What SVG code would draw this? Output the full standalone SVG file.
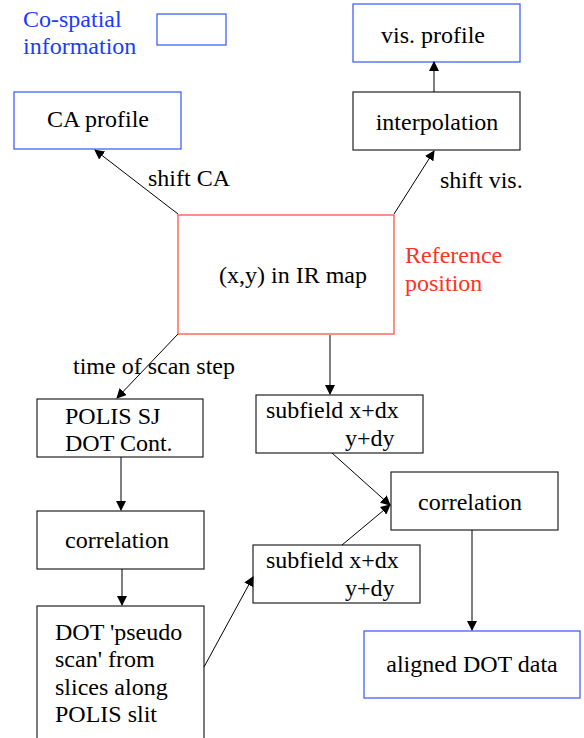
<svg xmlns="http://www.w3.org/2000/svg" width="584" height="738" viewBox="0 0 584 738" font-family="Liberation Serif, DejaVu Serif, serif">
<style>
text{font-size:24px;fill:#000}
.b{fill:#fff;stroke:#222;stroke-width:1.2}
.blue{fill:#fff;stroke:#3355ff;stroke-width:1.2}
.red{fill:#fff;stroke:#ff4433;stroke-width:1.2}
.c{text-anchor:middle}
.bt{fill:#1a3cff}
.rt{fill:#ff3322}
.ln{stroke:#000;stroke-width:1;fill:none}
</style>
<defs>
<marker id="ah" markerWidth="10" markerHeight="10" refX="9" refY="5" orient="auto" markerUnits="userSpaceOnUse">
<path d="M0,0 L10,5 L0,10 z" fill="#000"/>
</marker>
</defs>
<rect width="584" height="738" fill="#fff"/>
<g id="legend">
<text class="bt" x="23" y="27">Co-spatial</text>
<text class="bt" x="23" y="54">information</text>
<rect class="blue" x="157" y="14" width="69" height="31"/>
</g>
<g id="ca-profile">
<rect class="blue" x="14" y="92" width="167" height="57"/>
<text class="c" x="98" y="127">CA profile</text>
</g>
<g id="vis-profile">
<rect class="blue" x="353" y="4" width="167" height="58"/>
<text class="c" x="433" y="43">vis. profile</text>
</g>
<g id="interpolation">
<rect class="b" x="353" y="92" width="167" height="58"/>
<text class="c" x="437" y="130">interpolation</text>
</g>
<g id="reference">
<rect class="red" x="178" y="215" width="216" height="119"/>
<text class="c" x="293" y="283">(x,y) in IR map</text>
<text class="rt" x="405" y="263">Reference</text>
<text class="rt" x="405" y="291">position</text>
</g>
<g id="polis-sj">
<rect class="b" x="37" y="399" width="166" height="58"/>
<text x="65" y="424">POLIS SJ</text>
<text x="65" y="451">DOT Cont.</text>
</g>
<g id="correlation-left">
<rect class="b" x="37" y="511" width="167" height="58"/>
<text class="c" x="117" y="548">correlation</text>
</g>
<g id="dot-pseudo">
<rect class="b" x="37" y="606" width="167" height="140"/>
<text x="55" y="640">DOT 'pseudo</text>
<text x="55" y="667">scan' from</text>
<text x="55" y="695">slices along</text>
<text x="55" y="722">POLIS slit</text>
</g>
<g id="subfield-top">
<rect class="b" x="256" y="395" width="167" height="58"/>
<text x="266" y="418">subfield x+dx</text>
<text x="345" y="446">y+dy</text>
</g>
<g id="subfield-bottom">
<rect class="b" x="253" y="545" width="167" height="58"/>
<text x="266" y="568">subfield x+dx</text>
<text x="345" y="596">y+dy</text>
</g>
<g id="correlation-right">
<rect class="b" x="391" y="472" width="167" height="58"/>
<text class="c" x="470" y="510">correlation</text>
</g>
<g id="aligned">
<rect class="blue" x="364" y="631" width="216" height="67"/>
<text class="c" x="472" y="672">aligned DOT data</text>
</g>
<g id="connectors">
<line class="ln" x1="178" y1="214" x2="95" y2="150" marker-end="url(#ah)"/>
<text x="148" y="186">shift CA</text>
<line class="ln" x1="394" y1="214" x2="434" y2="151" marker-end="url(#ah)"/>
<text x="440" y="188">shift vis.</text>
<line class="ln" x1="434" y1="92" x2="434" y2="62" marker-end="url(#ah)"/>
<line class="ln" x1="330" y1="335" x2="330" y2="394" marker-end="url(#ah)"/>
<line class="ln" x1="178" y1="334" x2="117" y2="398" marker-end="url(#ah)"/>
<text x="73" y="374">time of scan step</text>
<line class="ln" x1="121" y1="457" x2="121" y2="510" marker-end="url(#ah)"/>
<line class="ln" x1="122" y1="569" x2="122" y2="605" marker-end="url(#ah)"/>
<line class="ln" x1="204" y1="667" x2="253" y2="577" marker-end="url(#ah)"/>
<line class="ln" x1="332" y1="453" x2="390" y2="505" marker-end="url(#ah)"/>
<line class="ln" x1="342" y1="545" x2="390" y2="505" marker-end="url(#ah)"/>
<line class="ln" x1="472" y1="530" x2="472" y2="630" marker-end="url(#ah)"/>
</g>
</svg>
